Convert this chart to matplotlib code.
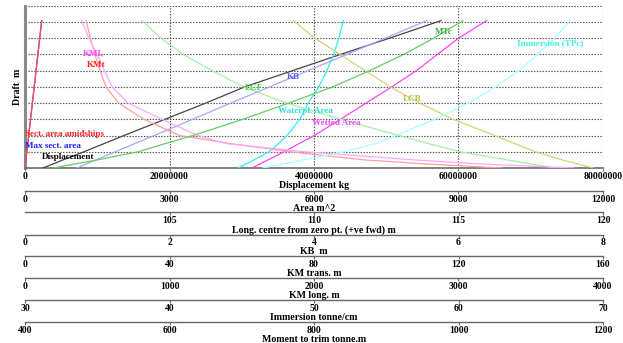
import matplotlib
matplotlib.use("Agg")
import matplotlib.pyplot as plt

plt.rcParams["font.family"] = ["Liberation Serif", "DejaVu Serif"]
plt.rcParams["font.weight"] = "bold"
plt.rcParams["axes.labelweight"] = "bold"

# hydrostatic table (draft axis has no numbers)
draft = [0, 0.25, 0.5, 1, 1.5, 2, 3, 4, 5, 6, 7, 8, 9.07]
displacement = [2.49e6, 3.88e6, 5.26e6, 8.17e6, 10.93e6, 13.70e6, 19.38e6,
                25.05e6, 30.45e6, 37.09e6, 43.74e6, 50.52e6, 57.58e6]
sect_area = [0, 9.6, 19.1, 38.3, 57.4, 76.5, 114.8, 153.0, 191.3, 229.6, 267.9, 306.1, 347]
max_sect_area = [0, 9.6, 19.1, 38.3, 57.4, 76.5, 114.8, 153.0, 191.3, 229.6, 267.9, 306.1, 347]
waterpl_area = [4428, 4588, 4754, 5066, 5263, 5439, 5709, 5880, 6100, 6270, 6410, 6517, 6608]
wetted_area = [4707, 4879, 5045, 5377, 5689, 6006, 6552, 7084, 7617, 8130, 8566, 9006, 9585]
lcb = [119.66, 119.12, 118.58, 117.65, 116.95, 116.25, 114.81, 113.65, 112.63,
       111.76, 110.89, 110.02, 109.28]
lcf = [118.37, 117.49, 116.69, 115.05, 113.97, 112.94, 110.91, 109.04, 107.56,
       106.46, 105.47, 104.69, 104.04]
kb = [0.72, 0.85, 0.98, 1.25, 1.52, 1.79, 2.32, 2.85, 3.39, 3.92, 4.46, 4.99, 5.56]
kmt = [132.0, 111.0, 93.8, 73.4, 57.0, 42.8, 32.9, 25.9, 22.4, 20.8, 19.3, 18.1, 16.9]
kml = [3802, 3149, 2689, 1938, 1393, 1197, 947, 712, 603, 549, 496, 442, 392]
tpc = [46.47, 47.89, 49.27, 52.08, 54.25, 55.67, 58.37, 60.69, 62.56, 64.21,
       65.48, 66.66, 67.72]
mtc = [439.2, 469.2, 500.3, 557.1, 593.8, 632.5, 701.7, 765.4, 826.3, 877.5,
       924.6, 966.1, 1006.2]

disp_ticks = [0, 20000000, 40000000, 60000000, 80000000]
area_ticks = [0, 3000, 6000, 9000, 12000]
long_ticks = [105, 110, 115, 120]
kb_ticks = [0, 2, 4, 6, 8]
kmt_ticks = [0, 40, 80, 120, 160]
kml_ticks = [0, 1000, 2000, 3000, 4000]
tpc_ticks = [30, 40, 50, 60, 70]
mtc_ticks = [400, 600, 800, 1000, 1200]

FS_TICK = 6.9
FS_LAB = 7.1
FS_TXT = 6.6
W, H = 623, 343
fig = plt.figure(figsize=(W / 100, H / 100), dpi=100)
ax = fig.add_axes([25 / W, 1 - 168 / H, 578 / W, 162.5 / H])
ax.set_xlim(0, 80e6)
ax.set_ylim(0, 10)
ax.set_xticks(disp_ticks)
ax.set_xticklabels([str(t) for t in disp_ticks])
ax.set_yticks(range(11))
ax.tick_params(axis="y", length=0, labelleft=False)
ax.tick_params(axis="x", length=2, pad=1.2, labelsize=FS_TICK, color="#777777")
ax.grid(True, linestyle=(0, (1.3, 1.3)), color="#555555", linewidth=0.8)
ax.spines["top"].set_visible(False)
ax.spines["right"].set_visible(False)
ax.spines["left"].set_color("#8a8a8a")
ax.spines["left"].set_linewidth(2.2)
ax.spines["bottom"].set_color("#777777")
ax.spines["bottom"].set_linewidth(1.3)
ax.set_xlabel("Displacement kg", fontsize=FS_LAB, labelpad=0)
ax.set_ylabel("Draft  m", fontsize=FS_LAB, labelpad=2)


def scale(lo, hi, ticks, label, offset):
    t = ax.twiny()
    t.set_xlim(lo, hi)
    t.xaxis.set_ticks_position("bottom")
    t.xaxis.set_label_position("bottom")
    t.spines["bottom"].set_position(("outward", offset))
    for s in ["top", "left", "right"]:
        t.spines[s].set_visible(False)
    t.spines["bottom"].set_color("#666666")
    t.spines["bottom"].set_linewidth(1.0)
    t.set_xticks(ticks)
    t.set_xticklabels([str(v) for v in ticks])
    t.tick_params(axis="x", length=2, pad=0.8, labelsize=FS_TICK, color="#666666")
    t.set_xlabel(label, fontsize=FS_LAB, labelpad=0)
    return t


ax_area = scale(0, 12000, area_ticks, "Area m^2", 16.3)
ax_long = scale(100, 120, long_ticks, "Long. centre from zero pt. (+ve fwd) m", 32.0)
ax_kb = scale(0, 8, kb_ticks, "KB  m", 47.9)
ax_kmt = scale(0, 160, kmt_ticks, "KM trans. m", 63.7)
ax_kml = scale(0, 4000, kml_ticks, "KM long. m", 79.4)
ax_tpc = scale(30, 70, tpc_ticks, "Immersion tonne/cm", 95.3)
ax_mtc = scale(400, 1200, mtc_ticks, "Moment to trim tonne.m", 111.1)

lw = 0.9
ax_tpc.plot(tpc, draft, color="#a8ffff", lw=lw)
ax_long.plot(lcb, draft, color="#d2d27a", lw=lw)
ax_long.plot(lcf, draft, color="#a6f0a6", lw=lw)
ax_kml.plot(kml, draft, color="#ffa6ff", lw=lw)
ax_kmt.plot(kmt, draft, color="#ffa0a0", lw=lw)
ax_kb.plot(kb, draft, color="#a6a6ff", lw=lw)
ax_mtc.plot(mtc, draft, color="#66cc66", lw=lw)
ax_area.plot(wetted_area, draft, color="#ff44ff", lw=lw)
ax_area.plot(waterpl_area, draft, color="#33f0f0", lw=lw)
ax_area.plot(max_sect_area, draft, color="#4444ff", lw=lw)
ax_area.plot(sect_area, draft, color="#ff4c4c", lw=lw)
ax.plot(displacement, draft, color="#444444", lw=lw, zorder=5)

labels = [
    ("KML", 7.99e6, 7.02, "#ff44ff"),
    ("KMt", 8.58e6, 6.34, "#ff2020"),
    ("KB", 36.26e6, 5.62, "#5a5aff"),
    ("LCF", 30.45e6, 4.92, "#44e044"),
    ("Waterpl. Area", 35.06e6, 3.51, "#2ee0e0"),
    ("Wetted Area", 39.68e6, 2.75, "#ff44ff"),
    ("LCB", 52.32e6, 4.23, "#bdbd44"),
    ("MTc", 56.75e6, 8.39, "#33b033"),
    ("Immersion (TPc)", 68.1e6, 7.71, "#44eeee"),
    ("Sect. area amidships", 0, 2.07, "#ff2020"),
    ("Max sect. area", 0, 1.37, "#2020ff"),
    ("Displacement", 2.31e6, 0.70, "#000000"),
]
for txt, x, y, c in labels:
    ax_mtc.text(x / 80e6, y / 10, txt, color=c, fontsize=FS_TXT, ha="left", va="center",
                transform=ax.transAxes, zorder=10)

fig.savefig("out.png", dpi=100)
